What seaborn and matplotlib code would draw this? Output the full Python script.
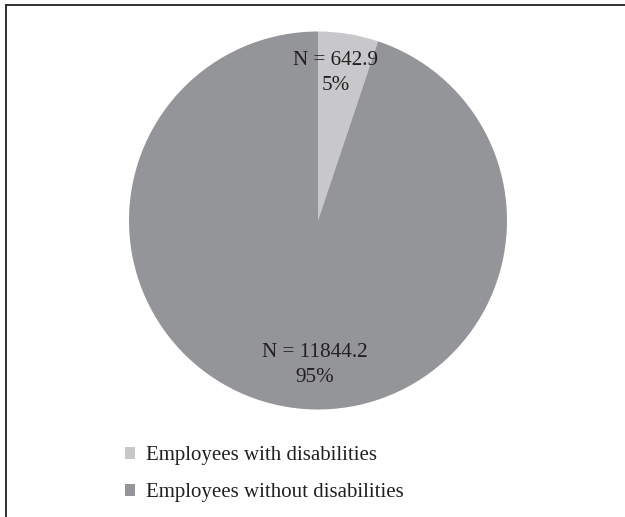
import matplotlib
matplotlib.use("Agg")
import matplotlib.pyplot as plt
import seaborn as sns
import numpy as np
from matplotlib.lines import Line2D
from matplotlib.patches import Patch

categories = ["Employees with disabilities", "Employees without disabilities"]
values = [642.9, 11844.2]
percents = [5, 95]
colors = ["#c8c8ca", "#939598"]

sns.set_theme(style="white")
plt.rcParams["font.family"] = ["Liberation Serif", "DejaVu Serif"]

fig = plt.figure(figsize=(6.25, 5.17), dpi=100)
W, H = 625, 517
cx, cy, r = 318, 220.5, 189
ax = fig.add_axes([(cx - r) / W, 1 - (cy + r) / H, 2 * r / W, 2 * r / H])
wedges, _ = ax.pie(values, colors=colors, startangle=90, counterclock=False,
                   radius=1.0, wedgeprops=dict(linewidth=0))
ax.set_xlim(-1, 1)
ax.set_ylim(-1, 1)
ax.set_aspect("equal")
ax.axis("off")

# data labels
label_pos = [(0.095, 0.78), (-0.015, -0.765)]
for (x, y), v, p in zip(label_pos, values, percents):
    ax.text(x, y, f"N = {v}\n{p}%", ha="center", va="center", fontsize=15.2,
            color="#231f20", linespacing=1.42)

# legend
handles = [Patch(facecolor=c, edgecolor="none") for c in colors]
fig.legend(handles, categories, loc="upper left",
           bbox_to_anchor=(117 / W, 1 - 438 / H), frameon=False,
           fontsize=15.0, handlelength=0.45, handleheight=0.45,
           handletextpad=0.55, labelspacing=0.87, borderaxespad=0,
           labelcolor="#231f20")

# frame lines
fig.add_artist(Line2D([6 / W, 1.0], [1 - 5 / H, 1 - 5 / H], color="#231f20",
                      linewidth=1.3, transform=fig.transFigure))
fig.add_artist(Line2D([6 / W, 6 / W], [0, 1 - 5 / H], color="#231f20",
                      linewidth=1.3, transform=fig.transFigure))

fig.savefig("out.png", dpi=100, facecolor="white")
